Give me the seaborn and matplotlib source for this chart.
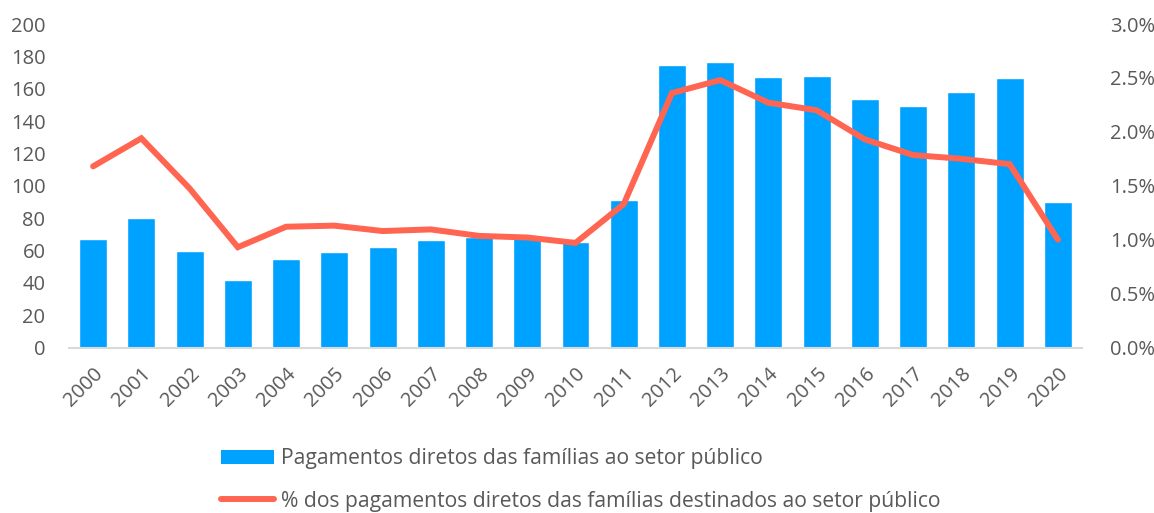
import matplotlib.pyplot as plt
import matplotlib.ticker as mticker
from matplotlib.patches import Patch
from matplotlib.lines import Line2D
import seaborn as sns
import numpy as np
import pandas as pd

anos = [str(a) for a in range(2000, 2021)]
pagamentos = [67, 80, 59.5, 41.5, 54.5, 59, 62, 66.5, 68.5, 67.5, 65,
              91, 174.5, 176.5, 167, 168, 153.5, 149.5, 158, 166.5, 90]
percentual = [1.68, 1.94, 1.475, 0.93, 1.12, 1.13, 1.08, 1.095, 1.035, 1.02, 0.97,
              1.33, 2.36, 2.48, 2.27, 2.20, 1.93, 1.785, 1.75, 1.70, 1.00]

lbl_barra = "Pagamentos diretos das famílias ao setor público"
lbl_linha = "% dos pagamentos diretos das famílias destinados ao setor público"

azul = "#00A2FF"
vermelho = "#FF6550"
cinza = "#595959"

sns.set_theme(style="white")
plt.rcParams['font.family'] = ['Open Sans', 'DejaVu Sans']

df = pd.DataFrame({"ano": anos, "pag": pagamentos,
                   "pct": np.array(percentual) / 100, "pos": np.arange(len(anos))})

fig = plt.figure(figsize=(11.54, 5.13), dpi=100)
ax = fig.add_axes([69 / 1154, 1 - 347.5 / 513, (1082 - 69) / 1154, (347.5 - 24) / 513])

sns.barplot(data=df, x="ano", y="pag", color=azul, width=0.58, saturation=1, ax=ax)
ax.set_ylim(0, 200)
ax.set_yticks(range(0, 201, 20))
ax.set_xlim(-0.5, 20.5)
ax.set_xlabel("")
ax.set_ylabel("")

ax2 = ax.twinx()
sns.lineplot(data=df, x="pos", y="pct", color=vermelho, linewidth=4.3,
             solid_capstyle="round", solid_joinstyle="miter", ax=ax2)
ax2.set_ylim(0, 0.03)
ax2.set_yticks(np.arange(0, 0.0301, 0.005))
ax2.yaxis.set_major_formatter(mticker.PercentFormatter(1.0, decimals=1))
ax2.set_xlim(-0.5, 20.5)
ax2.set_ylabel("")
ax2.set_xlabel("")

for a in (ax, ax2):
    for s in ["top", "left", "right", "bottom"]:
        a.spines[s].set_visible(False)
    a.tick_params(length=0, labelsize=14.5, colors=cinza)
ax.spines["bottom"].set_visible(True)
ax.spines["bottom"].set_color("#D9D9D9")
ax.spines["bottom"].set_linewidth(1.5)
ax.tick_params(axis="y", pad=17)
ax2.tick_params(axis="y", pad=20)

plt.setp(ax.get_xticklabels(), rotation=45, ha="right", rotation_mode="anchor")
ax.tick_params(axis="x", pad=12)

handles = [Patch(facecolor=azul, edgecolor="none"),
           Line2D([0], [0], color=vermelho, linewidth=4.3, solid_capstyle="round")]
fig.legend(handles, [lbl_barra, lbl_linha], loc="center",
           bbox_to_anchor=(581 / 1154, 1 - 480 / 513), frameon=False, ncol=1,
           fontsize=15.2, labelcolor=cinza, handlelength=2.5, handleheight=0.6,
           handletextpad=0.35, labelspacing=1.0, borderpad=0, alignment="left")

fig.savefig("out.png", dpi=100)
